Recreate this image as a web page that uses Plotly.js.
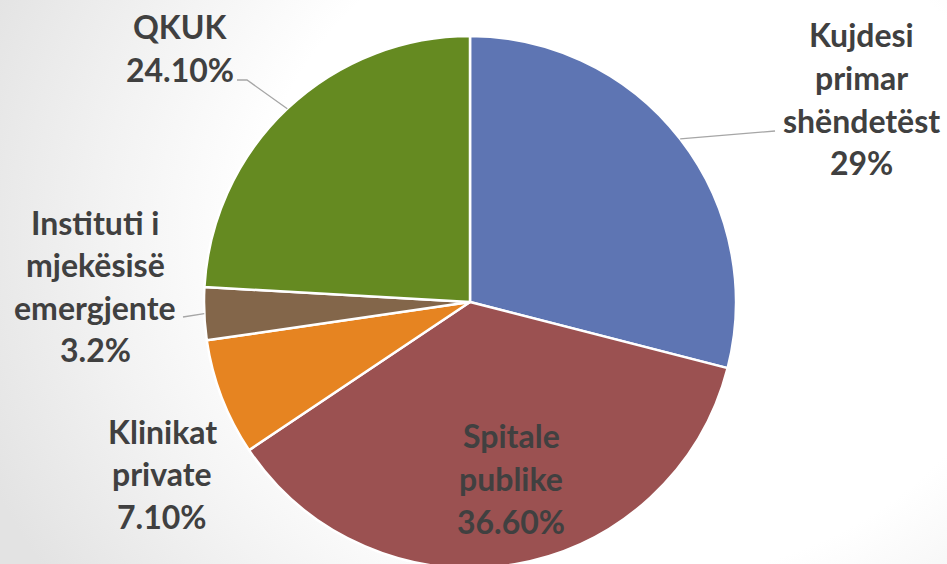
<!DOCTYPE html>
<html>
<head>
<meta charset="utf-8">
<script src="https://cdn.plot.ly/plotly-3.0.1.min.js"></script>
<style>
  html, body { margin: 0; padding: 0; width: 947px; height: 564px; overflow: hidden; }
  body { background: radial-gradient(ellipse 75% 110% at 68% 42%, #ffffff 55%, #f3f3f3 75%, #e3e3e3 100%); }
  #chart { width: 947px; height: 572px; }
</style>
</head>
<body>
<div id="chart"></div>
<script>
// ---- data ----
const categories = ['Kujdesi primar shëndetëst', 'Spitale publike', 'Klinikat private', 'Instituti i mjekësisë emergjente', 'QKUK'];
const shares = [29, 36.6, 7.1, 3.2, 24.1];
const shareLabels = ['29%', '36.60%', '7.10%', '3.2%', '24.10%'];
const labelLines = [['Kujdesi', 'primar', 'shëndetëst'], ['Spitale', 'publike'], ['Klinikat', 'private'], ['Instituti i', 'mjekësisë', 'emergjente'], ['QKUK']];
const sliceColors = ['#5E75B3', '#9B5151', '#E68421', '#83664A', '#658A21'];

// ---- layout geometry (pixels) ----
const W = 947, H = 572;
const CX = 470, CY = 302, R = 266;
const LINE_GAP = 42.5;
const labelAnchors = [[861, 35], [511, 436], [162, 431], [95, 222], [180, 27]];
const leaderTails = { 0: [[775, 131]], 3: [[183, 317]], 4: [[237, 80], [247, 80]] };

const px = x => x / W;
const py = y => 1 - y / H;

const total = shares.reduce((a, b) => a + b, 0);
let cum = 0;
const midPoints = shares.map(v => {
  const th = 2 * Math.PI * (cum + v / 2) / total;
  cum += v;
  return [CX + R * Math.sin(th), CY - R * Math.cos(th)];
});

const annotations = [];
labelLines.forEach((lines, i) => {
  const all = lines.concat([shareLabels[i]]);
  all.forEach((t, j) => {
    annotations.push({
      text: t, showarrow: false, xref: 'paper', yref: 'paper',
      x: px(labelAnchors[i][0]), y: py(labelAnchors[i][1] + j * LINE_GAP),
      xanchor: 'center', yanchor: 'middle',
      font: { family: 'Lato, sans-serif', size: 32, weight: 'bold', color: '#404040' }
    });
  });
});

const shapes = Object.keys(leaderTails).map(k => {
  const pts = leaderTails[k].concat([midPoints[k]]);
  const path = pts.map((p, j) => (j ? 'L' : 'M') + px(p[0]).toFixed(5) + ',' + py(p[1]).toFixed(5)).join(' ');
  return { type: 'path', xref: 'paper', yref: 'paper', path: path, line: { color: '#A6A6A6', width: 1.3 } };
});

const trace = {
  type: 'pie',
  labels: categories,
  values: shares,
  sort: false,
  direction: 'clockwise',
  rotation: 0,
  textinfo: 'none',
  hoverinfo: 'label+percent',
  marker: { colors: sliceColors, line: { color: '#FFFFFF', width: 2.5 } },
  domain: { x: [px(CX - R), px(CX + R)], y: [py(CY + R), py(CY - R)] },
  showlegend: false
};

Plotly.newPlot('chart', [trace], {
  width: W, height: H,
  margin: { l: 0, r: 0, t: 0, b: 0 },
  paper_bgcolor: 'rgba(0,0,0,0)',
  plot_bgcolor: 'rgba(0,0,0,0)',
  showlegend: false,
  annotations: annotations,
  shapes: shapes
}, { displayModeBar: false, staticPlot: true });
</script>
</body>
</html>
